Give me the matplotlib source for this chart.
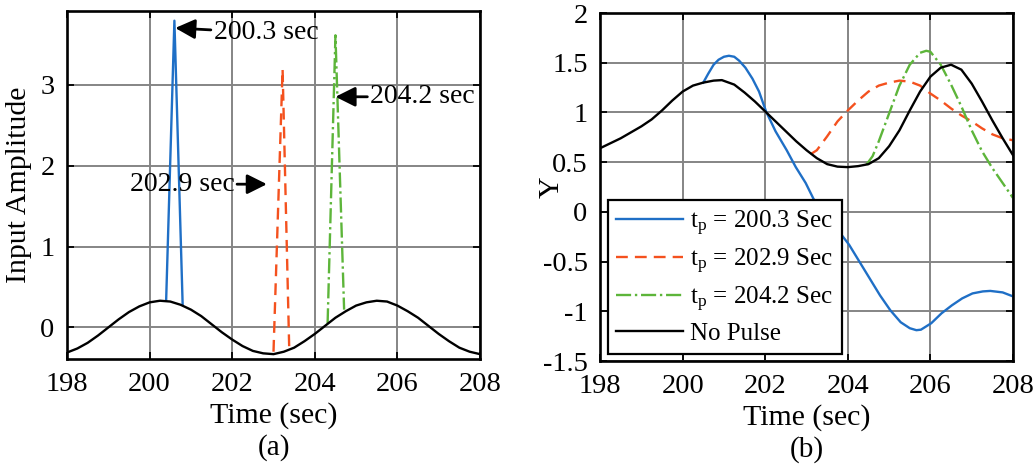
import matplotlib
matplotlib.use("Agg")
import matplotlib.pyplot as plt

plt.rcParams['font.family'] = ['Liberation Serif', 'DejaVu Serif']
plt.rcParams['mathtext.fontset'] = 'custom'
plt.rcParams['mathtext.rm'] = 'Liberation Serif'

# (a) input signal: sinusoid plus a short pulse at each trigger time
t_in = [198.0, 198.25, 198.5, 198.75, 199.0, 199.25, 199.5, 199.75, 200.0, 200.25,
        200.5, 200.75, 201.0, 201.25, 201.5, 201.75, 202.0, 202.25, 202.5, 202.75,
        203.0, 203.25, 203.5, 203.75, 204.0, 204.25, 204.5, 204.75, 205.0, 205.25,
        205.5, 205.75, 206.0, 206.25, 206.5, 206.75, 207.0, 207.25, 207.5, 207.75, 208.0]
u_in = [-0.31, -0.26, -0.19, -0.10, 0.00, 0.10, 0.19, 0.26, 0.31, 0.33,
        0.32, 0.28, 0.22, 0.14, 0.04, -0.06, -0.15, -0.23, -0.29, -0.32,
        -0.33, -0.30, -0.25, -0.17, -0.08, 0.02, 0.12, 0.20, 0.27, 0.31,
        0.33, 0.32, 0.27, 0.20, 0.12, 0.02, -0.08, -0.17, -0.25, -0.30, -0.33]

pulse1_t = [200.40, 200.60, 200.80]
pulse1_u = [0.33, 3.79, 0.28]
pulse2_t = [203.00, 203.22, 203.38]
pulse2_u = [-0.30, 3.19, -0.25]
pulse3_t = [204.31, 204.50, 204.71]
pulse3_u = [0.05, 3.61, 0.22]

# (b) output Y
t_out = [198.0, 198.25, 198.5, 198.75, 199.0, 199.25, 199.5, 199.75, 200.0, 200.25,
         200.5, 200.75, 200.95, 201.25, 201.5, 201.75, 202.0, 202.25, 202.5, 202.75,
         203.0, 203.25, 203.5, 203.75, 204.0, 204.25, 204.5, 204.75, 205.0, 205.25,
         205.5, 205.75, 206.0, 206.25, 206.5, 206.75, 207.0, 207.25, 207.5, 207.75, 208.0]
y_none = [0.64, 0.69, 0.74, 0.80, 0.86, 0.93, 1.02, 1.12, 1.21, 1.27,
          1.30, 1.32, 1.325, 1.28, 1.20, 1.11, 1.01, 0.91, 0.81, 0.71,
          0.62, 0.54, 0.48, 0.455, 0.45, 0.46, 0.48, 0.54, 0.66, 0.82,
          1.02, 1.21, 1.36, 1.45, 1.48, 1.43, 1.29, 1.11, 0.92, 0.74, 0.57]

t1 = [200.5, 200.62, 200.75, 200.87, 201.0, 201.12, 201.25, 201.37, 201.52, 201.69,
      201.85, 202.02, 202.25, 202.52, 202.74, 202.98, 203.17, 203.5, 203.79, 204.03,
      204.28, 204.53, 204.78, 205.03, 205.28, 205.5, 205.66, 205.77, 206.02, 206.27,
      206.52, 206.77, 207.02, 207.27, 207.45, 207.75, 208.0]
y1 = [1.30, 1.39, 1.48, 1.53, 1.56, 1.57, 1.56, 1.52, 1.45, 1.34,
      1.21, 1.01, 0.81, 0.62, 0.45, 0.29, 0.13, -0.05, -0.20, -0.33,
      -0.50, -0.67, -0.84, -0.99, -1.11, -1.17, -1.19, -1.185, -1.12, -1.02,
      -0.94, -0.87, -0.82, -0.80, -0.795, -0.81, -0.85]

t2 = [203.1, 203.25, 203.5, 203.75, 204.0, 204.25, 204.5, 204.75, 205.0, 205.25,
      205.5, 205.75, 206.0, 206.25, 206.5, 206.75, 207.0, 207.25, 207.5, 207.75, 208.0]
y2 = [0.58, 0.62, 0.76, 0.91, 1.02, 1.12, 1.21, 1.27, 1.30, 1.32,
      1.31, 1.27, 1.19, 1.12, 1.04, 0.97, 0.91, 0.84, 0.78, 0.74, 0.72]

t3 = [204.45, 204.6, 204.75, 205.0, 205.25, 205.5, 205.75, 205.9, 206.0, 206.25,
      206.5, 206.75, 207.0, 207.25, 207.5, 207.75, 208.0]
y3 = [0.475, 0.56, 0.71, 0.99, 1.27, 1.48, 1.60, 1.62, 1.61, 1.48,
      1.28, 1.06, 0.82, 0.61, 0.44, 0.29, 0.14]

labels = [r'$\mathregular{t_p}$ = 200.3 Sec', r'$\mathregular{t_p}$ = 202.9 Sec',
          r'$\mathregular{t_p}$ = 204.2 Sec', 'No Pulse']
xticks = [198, 200, 202, 204, 206, 208]

c_blue = '#1f6fc6'
c_red = '#f4511e'
c_green = '#5db53a'
lw = 1.7

fig = plt.figure(figsize=(10.36, 4.68), dpi=100)
ax1 = fig.add_axes([0.0647, 0.2329, 0.3986, 0.7436])
ax2 = fig.add_axes([0.5792, 0.2286, 0.3986, 0.7436])


def style(ax):
    ax.set_xlim(198, 208)
    ax.set_xticks(xticks)
    ax.grid(True, color='#858585', lw=1.4)
    ax.set_axisbelow(True)
    ax.tick_params(direction='in', top=True, right=True, labelsize=20.5,
                   length=5, width=1.3, pad=9)
    for s in ax.spines.values():
        s.set_linewidth(1.9)
    ax.set_xlabel('Time (sec)', fontsize=21.5, labelpad=4)


# --- (a) ---
ax1.plot(pulse1_t, pulse1_u, color=c_blue, lw=lw)
ax1.plot(pulse2_t, pulse2_u, color=c_red, lw=lw, ls='--', dashes=(5, 3))
ax1.plot(pulse3_t, pulse3_u, color=c_green, lw=lw, ls='-.')
ax1.plot(t_in, u_in, color='black', lw=lw)
style(ax1)
ax1.set_ylim(-0.39, 3.91)
ax1.set_yticks([0, 1, 2, 3])
ax1.set_ylabel('Input Amplitude', fontsize=21.5)
ax1.yaxis.set_label_coords(-0.085, 0.5)

arrow = dict(arrowstyle='-|>', color='black', lw=2, mutation_scale=30,
             shrinkA=0, shrinkB=0)
ax1.annotate('200.3 sec', xy=(200.62, 3.7), xytext=(201.55, 3.64), fontsize=20,
             va='center', ha='left', arrowprops=arrow)
ax1.annotate('204.2 sec', xy=(204.5, 2.85), xytext=(205.34, 2.85), fontsize=20,
             va='center', ha='left', arrowprops=arrow)
ax1.annotate('202.9 sec', xy=(202.84, 1.77), xytext=(202.05, 1.77), fontsize=20,
             va='center', ha='right', arrowprops=arrow)
ax1.text(0.5, -0.253, '(a)', transform=ax1.transAxes, ha='center', va='center',
         fontsize=21)

# --- (b) ---
ax2.plot(t1, y1, color=c_blue, lw=lw, label=labels[0])
ax2.plot(t2, y2, color=c_red, lw=lw, ls='--', dashes=(5, 3), label=labels[1])
ax2.plot(t3, y3, color=c_green, lw=lw, ls='-.', label=labels[2])
ax2.plot(t_out, y_none, color='black', lw=lw, label=labels[3])
style(ax2)
ax2.set_ylim(-1.5, 2)
yt = [-1.5, -1, -0.5, 0, 0.5, 1, 1.5, 2]
ax2.set_yticks(yt)
ax2.set_yticklabels([f'{v:g}' for v in yt])
ax2.set_ylabel('Y', fontsize=21.5)
ax2.yaxis.set_label_coords(-0.085, 0.5)
leg = ax2.legend(loc='lower left', fontsize=18, frameon=True, fancybox=False,
                 edgecolor='black', framealpha=1, borderaxespad=0.3,
                 handlelength=2.65, labelspacing=0.35, handletextpad=0.3,
                 borderpad=0.35)
leg.get_frame().set_linewidth(1.6)
ax2.text(0.5, -0.253, '(b)', transform=ax2.transAxes, ha='center', va='center',
         fontsize=21)

fig.savefig('out.png', dpi=100)
